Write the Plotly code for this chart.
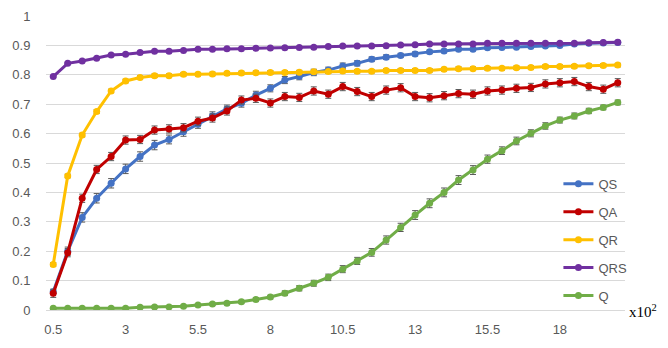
import plotly.graph_objects as go

# x categories (x10^2)
x_vals = [0.5 + 0.5 * i for i in range(40)]
tick_vals = [0.5, 3, 5.5, 8, 10.5, 13, 15.5, 18]
tick_text = ["0.5", "3", "5.5", "8", "10.5", "13", "15.5", "18"]

qs = [0.062, 0.200, 0.315, 0.380, 0.431, 0.480, 0.522, 0.561, 0.580, 0.606,
      0.632, 0.660, 0.684, 0.703, 0.731, 0.754, 0.782, 0.794, 0.808, 0.816,
      0.830, 0.839, 0.853, 0.860, 0.866, 0.871, 0.878, 0.881, 0.887, 0.887,
      0.892, 0.893, 0.894, 0.896, 0.898, 0.900, 0.905, 0.907, 0.908, 0.910]
qa = [0.057, 0.195, 0.380, 0.478, 0.522, 0.578, 0.580, 0.612, 0.616, 0.620,
      0.642, 0.653, 0.677, 0.714, 0.720, 0.704, 0.726, 0.723, 0.745, 0.734,
      0.760, 0.743, 0.726, 0.748, 0.756, 0.726, 0.722, 0.729, 0.736, 0.734,
      0.745, 0.748, 0.754, 0.757, 0.769, 0.773, 0.777, 0.760, 0.751, 0.773]
qr = [0.155, 0.456, 0.595, 0.675, 0.745, 0.779, 0.791, 0.797, 0.797, 0.802,
      0.802, 0.803, 0.805, 0.806, 0.807, 0.808, 0.808, 0.809, 0.810, 0.811,
      0.813, 0.812, 0.812, 0.815, 0.815, 0.815, 0.815, 0.819, 0.821, 0.821,
      0.822, 0.822, 0.824, 0.825, 0.828, 0.828, 0.829, 0.831, 0.832, 0.833]
qrs = [0.794, 0.839, 0.847, 0.856, 0.867, 0.870, 0.876, 0.880, 0.880, 0.883,
       0.887, 0.887, 0.889, 0.889, 0.890, 0.891, 0.892, 0.893, 0.894, 0.896,
       0.898, 0.898, 0.898, 0.899, 0.901, 0.902, 0.905, 0.905, 0.905, 0.905,
       0.907, 0.907, 0.907, 0.907, 0.907, 0.907, 0.907, 0.909, 0.910, 0.911]
q = [0.006, 0.006, 0.006, 0.006, 0.006, 0.006, 0.009, 0.010, 0.010, 0.013,
     0.017, 0.020, 0.023, 0.028, 0.036, 0.044, 0.057, 0.074, 0.091, 0.111,
     0.139, 0.167, 0.196, 0.238, 0.281, 0.323, 0.363, 0.400, 0.442, 0.476,
     0.513, 0.542, 0.575, 0.601, 0.626, 0.646, 0.660, 0.677, 0.689, 0.706]

# error bar half-widths
qs_err = [0.006, 0.014, 0.016, 0.016, 0.016, 0.016, 0.016, 0.016, 0.015, 0.015,
          0.014, 0.014, 0.013, 0.013, 0.013, 0.012, 0.012, 0.011, 0.011, 0.010,
          0.010, 0.009, 0.008, 0.008, 0.007, 0.007, 0.006, 0.006, 0.005, 0.005,
          0.005, 0.004, 0.004, 0.004, 0.004, 0.003, 0.003, 0.003, 0.003, 0.003]
qa_err = 0.014
qr_err = 0.006
qrs_err = 0.003
q_err = [0.002, 0.002, 0.002, 0.002, 0.002, 0.002, 0.003, 0.003, 0.003, 0.003,
         0.004, 0.004, 0.005, 0.005, 0.006, 0.006, 0.008, 0.009, 0.010, 0.011,
         0.012, 0.012, 0.013, 0.014, 0.014, 0.015, 0.015, 0.015, 0.015, 0.015,
         0.014, 0.013, 0.013, 0.012, 0.011, 0.010, 0.010, 0.009, 0.008, 0.008]

series = [
    ("QS", qs, qs_err, "#4472C4"),
    ("QA", qa, qa_err, "#C00000"),
    ("QR", qr, qr_err, "#FFC000"),
    ("QRS", qrs, qrs_err, "#7030A0"),
    ("Q", q, q_err, "#70AD47"),
]

font = "Liberation Sans"
grey = "#595959"

fig = go.Figure()
for name, ys, err, color in series:
    if isinstance(err, list):
        ey = dict(type="data", array=err, color=grey, thickness=1, width=3)
    else:
        ey = dict(type="constant", value=err, color=grey, thickness=1, width=3)
    fig.add_scatter(x=x_vals, y=ys, name=name, mode="lines+markers",
                    line=dict(color=color, width=3),
                    marker=dict(color=color, size=7),
                    error_y=ey, legendgroup=name)

# page body adds an 8px offset, so the figure is 8px smaller than the window
fig.update_layout(
    width=660, height=340,
    margin=dict(l=38, r=43, t=8, b=38),
    paper_bgcolor="white", plot_bgcolor="white",
    font=dict(family=font, size=13, color=grey),
    legend=dict(x=0.885, xanchor="left", y=0.48, yanchor="top",
                bgcolor="rgba(0,0,0,0)", tracegroupgap=8,
                font=dict(family=font, size=13, color=grey),
                itemwidth=30),
    showlegend=True,
)
fig.update_xaxes(range=[0.25, 20.25], tickvals=tick_vals, ticktext=tick_text,
                 showgrid=False, zeroline=False, showline=False, automargin=False,
                 ticks="outside", ticklen=7, tickcolor="rgba(0,0,0,0)")
fig.update_yaxes(range=[0, 1], dtick=0.1, tickformat="~g", automargin=False,
                 showgrid=True, gridcolor="#D9D9D9", gridwidth=1,
                 zeroline=True, zerolinecolor="#D9D9D9", zerolinewidth=1,
                 ticks="outside", ticklen=12, tickcolor="rgba(0,0,0,0)")

fig.add_annotation(text="x10<sup>2</sup>", xref="paper", yref="paper",
                   x=1.003, xanchor="left", y=-0.005, yanchor="middle",
                   showarrow=False,
                   font=dict(family="Liberation Serif", size=15, color="black"))

fig.write_html("out.html")
